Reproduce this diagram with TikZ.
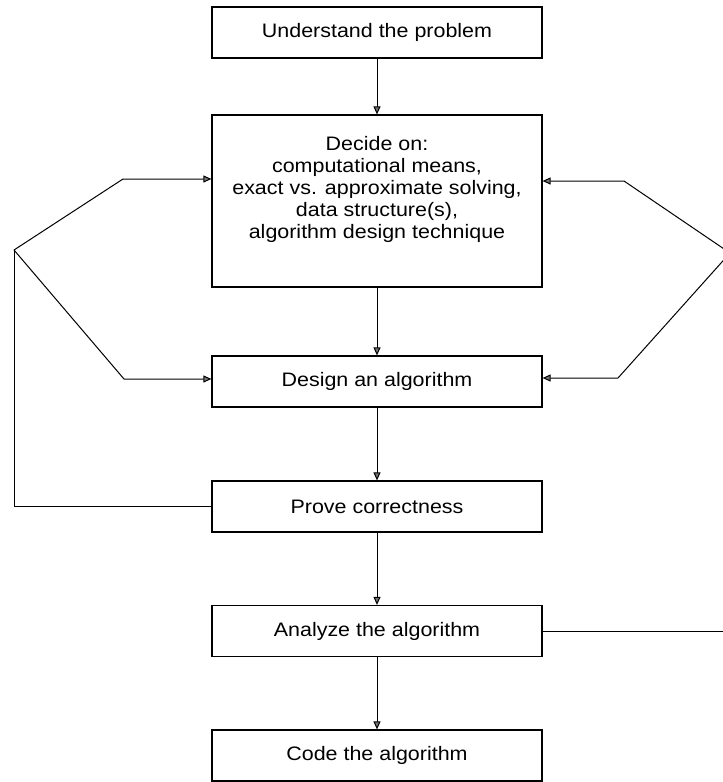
\documentclass[tikz,border=0pt]{standalone}
\usepackage{fontspec}
\setmainfont{Liberation Sans}[FakeStretch=1.1]
\usetikzlibrary{arrows.meta}
\begin{document}
\begin{tikzpicture}[x=1pt,y=-1pt,
  box/.style={draw,line width=1.2pt,minimum width=330pt,minimum height=51pt,inner sep=0pt,
    align=center,font=\fontsize{19.5}{22}\selectfont},
  conn/.style={line width=1pt},
  arr/.style={conn,-{Triangle[length=8pt,width=7pt,fill=black!55]}}]
\useasboundingbox (0,0) rectangle (723,782);
\node[box] (b1) at (377,32.5) {Understand the problem};
\node[box,minimum height=172pt] (b2) at (377,201) {Decide on:\\computational means,\\exact vs. approximate solving,\\data structure(s),\\algorithm design technique\\[6pt]};
\node[box] (b3) at (377,381.5) {Design an algorithm};
\node[box] (b4) at (377,506.5) {Prove correctness};
\node[box] (b5) at (377,631) {Analyze the algorithm};
\node[box] (b6) at (377,755.5) {Code the algorithm};
\draw[arr] (b1) -- (b2);
\draw[arr] (b2) -- (b3);
\draw[arr] (b3) -- (b4);
\draw[arr] (b4) -- (b5);
\draw[arr] (b5) -- (b6);
% left feedback
\coordinate (lf) at (14,250);
\coordinate (l1) at (123,179);
\coordinate (l2) at (124,379);
\draw[conn] (b4.west) -| (lf);
\draw[arr] (lf) -- (l1) -- (l1 -| b2.west);
\draw[arr] (lf) -- (l2) -- (l2 -| b3.west);
% right feedback
\coordinate (rf) at (730,253);
\coordinate (r1) at (624,181);
\coordinate (r2) at (618,378);
\draw[conn] (b5.east) -| (rf);
\draw[arr] (rf) -- (r1) -- (r1 -| b2.east);
\draw[arr] (rf) -- (r2) -- (r2 -| b3.east);
\end{tikzpicture}
\end{document}
